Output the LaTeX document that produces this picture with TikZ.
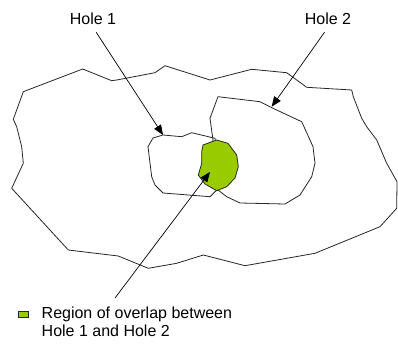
\documentclass[tikz,border=0pt]{standalone}
\usepackage{fontspec}
\setmainfont{Liberation Sans}
\usetikzlibrary{arrows.meta}
\definecolor{overlapgreen}{HTML}{99CC00}

\begin{document}
\begin{tikzpicture}[x=1pt, y=-1pt,
  outline/.style={draw=black!85, line width=0.8pt, line join=round},
  lbl/.style={font=\fontsize{16}{17.4}\selectfont, inner sep=2pt, anchor=base},
  arr/.style={-{Triangle[length=10pt, width=8pt]}, line width=0.7pt},
  overlap/.style={outline, fill=overlapgreen}
]
\useasboundingbox (0,0) rectangle (398,345);
% ---- outer boundary
\draw[outline] (23.3,91.7) -- (82.7,69) -- (111.7,80.7) -- (116.7,80) -- (155,72.7) -- (165,65.7)
  -- (210,80) -- (251.7,69.3) -- (286.7,72.7) -- (306.7,87.3) -- (351.7,90) -- (353.3,96.7)
  -- (361.7,118.3) -- (366.7,126.7) -- (376.7,140) -- (386.7,163.3) -- (397,181.7) -- (396.7,208.3)
  -- (380,226.7) -- (315,253.3) -- (245,265.7) -- (203.3,255) -- (176.7,263.3) -- (148.3,268.3)
  -- (118.3,256) -- (68.3,250) -- (11.7,188.3) -- (23.3,163.3) -- (21.7,146.7) -- (16.7,126.7)
  -- (13.3,119.3) -- cycle;
% ---- hole 1
\draw[outline] (163,135) -- (181.7,136.7) -- (191.7,132.7) -- (215,138.3) -- (220,165) -- (216.7,190)
  -- (210,196.7) -- (163,193) -- (155,185) -- (151.7,176.7) -- (148,146.7) -- (153,138) -- cycle;
% ---- hole 2
\draw[outline] (218,96.7) -- (260,101.7) -- (273,108.3) -- (301.7,121.7) -- (313,146.7) -- (315,163.3)
  -- (311.7,176.7) -- (300,195) -- (285,204) -- (240,203) -- (226.7,196.7) -- (216.7,189)
  -- (210,160) -- (213,140) -- (210,118.3) -- cycle;
% ---- overlap
\draw[overlap] (203,145) -- (216.7,140) -- (228,143.3) -- (236.7,155) -- (238.3,166.7) -- (235,178)
  -- (226.7,186.7) -- (216.7,190.7) -- (205,184) -- (198.3,175) -- (201.7,163.3) -- (201.7,151.7) -- cycle;
% ---- labels and pointers
\node[lbl] (hole1lbl) at (93,25) {Hole 1};
\node[lbl] (hole2lbl) at (328,25) {Hole 2};
\coordinate (hole1tip) at (163,135);
\coordinate (hole2tip) at (271.7,106.7);
\coordinate (overlapfoot) at (115,298);
\coordinate (overlaptip) at (210,172);
\draw[arr, shorten <=6pt] (hole1lbl.south) -- (hole1tip);
\draw[arr, shorten <=6pt] (hole2lbl.south) -- (hole2tip);
\draw[arr] (overlapfoot) -- (overlaptip);
% ---- legend
\node[draw=black!85, line width=0.7pt, fill=overlapgreen, minimum width=10pt, minimum height=5.5pt, inner sep=0pt] (legendbox) at (23.3,314.2) {};
\node[lbl, anchor=north west, align=left, inner sep=0pt] (legendtxt) at (41.5,307) {Region of overlap between\\Hole 1 and Hole 2};
\end{tikzpicture}
\end{document}
